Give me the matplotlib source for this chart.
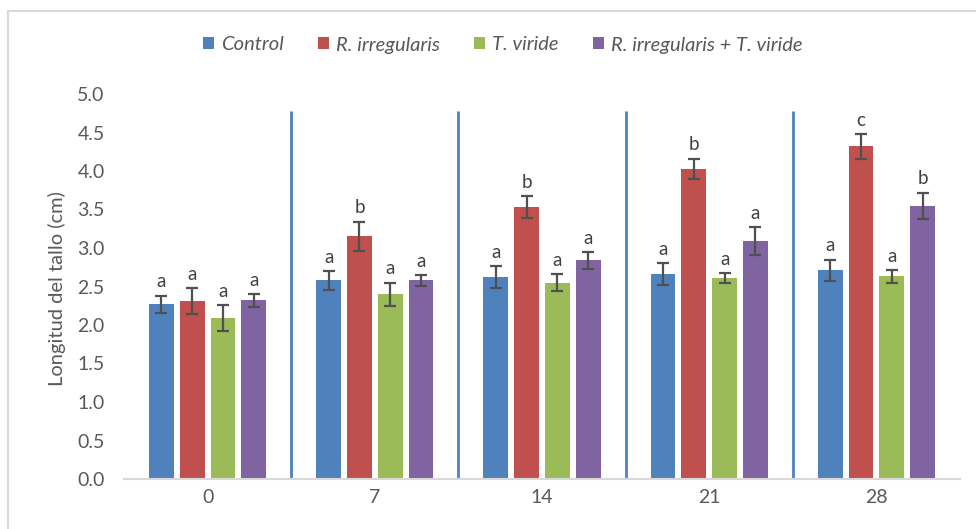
import matplotlib
matplotlib.use("Agg")
import matplotlib.pyplot as plt
from matplotlib.patches import Rectangle
import numpy as np

# days after inoculation
days = ["0", "7", "14", "21", "28"]
treatments = ["Control", "R. irregularis", "T. viride", "R. irregularis + T. viride"]
colors = ["#4F81BD", "#C0504D", "#9BBB59", "#8064A2"]

# mean stem length (cm) per treatment, one value per day
control = [2.27, 2.58, 2.62, 2.66, 2.71]
r_irreg = [2.31, 3.15, 3.53, 4.03, 4.32]
t_viride = [2.09, 2.40, 2.55, 2.61, 2.63]
r_irreg_t_viride = [2.32, 2.58, 2.84, 3.09, 3.55]

# standard errors
control_err = [0.11, 0.12, 0.14, 0.14, 0.14]
r_irreg_err = [0.17, 0.19, 0.14, 0.13, 0.16]
t_viride_err = [0.17, 0.15, 0.11, 0.06, 0.08]
r_irreg_t_viride_err = [0.08, 0.07, 0.11, 0.18, 0.17]

# significance letters
control_let = ["a", "a", "a", "a", "a"]
r_irreg_let = ["a", "b", "b", "b", "c"]
t_viride_let = ["a", "a", "a", "a", "a"]
r_irreg_t_viride_let = ["a", "a", "a", "a", "b"]

means = [control, r_irreg, t_viride, r_irreg_t_viride]
errs = [control_err, r_irreg_err, t_viride_err, r_irreg_t_viride_err]
letters = [control_let, r_irreg_let, t_viride_let, r_irreg_t_viride_let]

plt.rcParams['font.family'] = ['Lato', 'DejaVu Sans']
grey = "#595959"

fig = plt.figure(figsize=(9.76, 5.29), dpi=100)
ax = fig.add_axes([124/976, 1-479/529, 836/976, 385/529])

x = np.arange(len(days))
width = 0.148
pitch = 0.184
for i in range(len(treatments)):
    pos = x + (i - 1.5) * pitch
    ax.bar(pos, means[i], width, color=colors[i], label=treatments[i], zorder=2)
    ax.errorbar(pos, means[i], yerr=errs[i], fmt='none', ecolor='#505050',
                elinewidth=1.6, capsize=4, capthick=1.6, zorder=3)
    for p, m, e, l in zip(pos, means[i], errs[i], letters[i]):
        ax.annotate(l, (p, m + e), xytext=(0, 6), textcoords='offset points',
                    ha='center', va='baseline', fontsize=13.5, color='#404040')

# separators between sampling days
ax.vlines(x[:-1] + 0.5, 0, 4.78, color="#4F81BD", linewidth=2, zorder=1)

ax.set_xlim(-0.5, len(days) - 0.5)
ax.set_ylim(0, 5)
ax.set_yticks(np.arange(0, 5.01, 0.5))
ax.set_yticklabels(["%.1f" % v for v in np.arange(0, 5.01, 0.5)])
ax.set_xticks(x)
ax.set_xticklabels(days)
ax.tick_params(axis='both', length=0, labelsize=14, colors=grey)
ax.tick_params(axis='y', pad=14)
ax.tick_params(axis='x', pad=7)
for s in ['top', 'right', 'left']:
    ax.spines[s].set_visible(False)
ax.spines['bottom'].set_color('#D9D9D9')
ax.spines['bottom'].set_linewidth(1.5)

fig.text(57/976, 1-289/529, "Longitud del tallo (cm)", rotation=90, ha='center',
         va='center', fontsize=14.5, color=grey)

leg = fig.legend(loc='center', bbox_to_anchor=(0.515, 1-45/529), ncol=4, frameon=False,
                 handlelength=0.55, handleheight=0.55, handletextpad=0.35,
                 columnspacing=1.7, prop={'style': 'italic', 'size': 14.5})
for t in leg.get_texts():
    t.set_color(grey)

# chart frame
fig.patches.append(Rectangle((8/976, -0.1), 2, 1.1 - 11/529, transform=fig.transFigure,
                             fill=False, edgecolor='#D9D9D9', linewidth=1.5))

fig.savefig("out.png", dpi=100)
